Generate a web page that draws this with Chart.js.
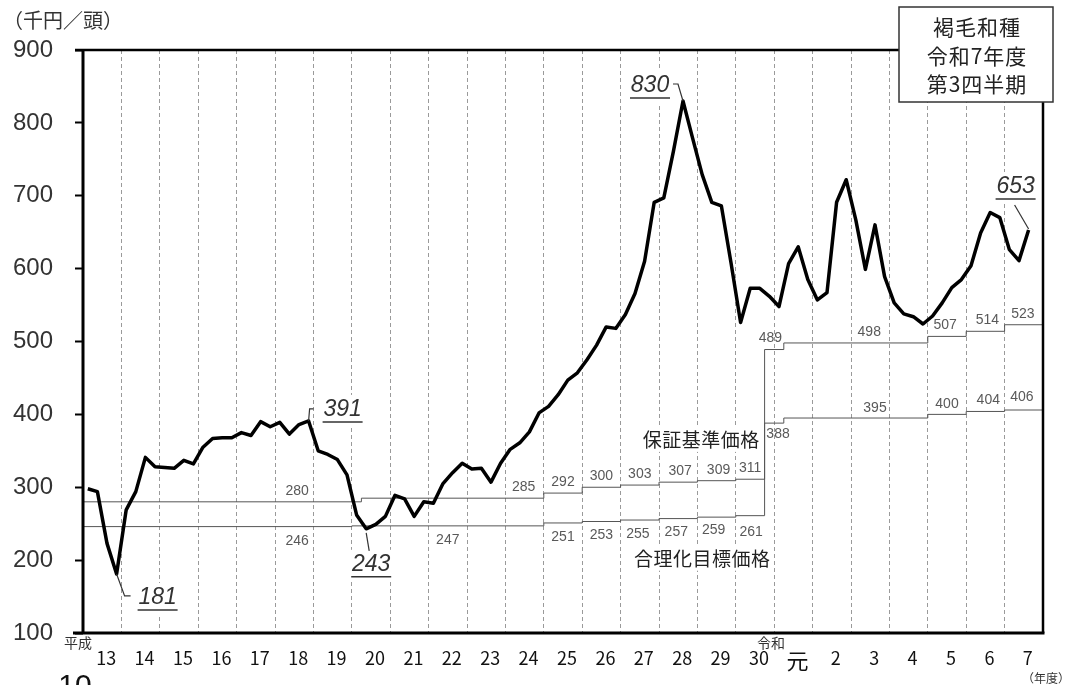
<!DOCTYPE html>
<html lang="ja">
<head>
<meta charset="utf-8">
<title>褐毛和種 子牛価格の推移</title>
<script src="https://cdn.jsdelivr.net/npm/chart.js@4.4.1/dist/chart.umd.min.js"></script>
<style>
  html, body { margin: 0; padding: 0; background: #fff; }
  #wrap { width: 1066px; height: 685px; overflow: hidden; }
  canvas { display: block; }
</style>
</head>
<body>
<div id="wrap"><canvas id="myChart" width="1066" height="685"></canvas></div>
<script>
// 年度ラベル（平成13年度〜令和7年度）
const yearLabels = ['13', '14', '15', '16', '17', '18', '19', '20', '21', '22', '23', '24',
  '25', '26', '27', '28', '29', '30', '元', '2', '3', '4', '5', '6', '7'];

// 四半期ごとの平均価格（千円／頭）H13第1四半期〜R7第3四半期
const prices = [
  298, 294, 223, 181, 269, 294, 341, 328, 327, 326,
  337, 332, 355, 367, 368, 368, 375, 371, 390, 383,
  389, 373, 386, 391, 350, 345, 338, 317, 262, 243,
  249, 260, 289, 284, 260, 280, 278, 305, 320, 333,
  325, 326, 307, 333, 352, 361, 376, 402, 411, 427,
  447, 457, 475, 495, 520, 518, 537, 566, 610, 691,
  697, 761, 830, 779, 729, 691, 686, 608, 526, 573,
  573, 562, 548, 607, 630, 585, 557, 567, 691, 722,
  667, 599, 660, 589, 553, 538, 534, 524, 535, 553,
  574, 585, 604, 649, 677, 670, 626, 611, 653
];

// 保証基準価格（開始四半期と価格）
const guaranteeStart = [0, 29, 48, 52, 56, 60, 64, 68, 71, 73, 88, 92, 96];
const guaranteePrice = [280, 285, 292, 300, 303, 307, 309, 311, 489, 498, 507, 514, 523];

// 合理化目標価格（開始四半期と価格）
const targetStart = [0, 28, 48, 52, 56, 60, 64, 68, 71, 73, 88, 92, 96];
const targetPrice = [246, 247, 251, 253, 255, 257, 259, 261, 388, 395, 400, 404, 406];

// 注記する価格の四半期
const markedQuarters = [3, 23, 29, 62, 98];

const yTicks = [100, 200, 300, 400, 500, 600, 700, 800, 900];
const quarterCount = 100;

const JP = '"Noto Sans CJK JP", sans-serif';
const NUM = '"Liberation Sans", Arial, sans-serif';

// ---- layout of the texts (not data) ----
const guaranteeLabelX = [22.3, 45.9, 50, 54, 58, 62.2, 66.2, 69.5, 71.6, 81.9, 89.8, 94.2, 97.9];
const targetLabelX = [22.3, 38, 50, 54, 57.8, 61.8, 65.7, 69.6, 72.4, 82.5, 90, 94.3, 97.8];
const targetLabelDy = [15, 14, 14, 14, 14, 14, 13, 16, 11, -10, -10, -11, -13];
const markLayout = [
  { dx: 41, dy: 24, leader: [[0, 0], [8, 22], [14, 22]] },
  { dx: 34, dy: -11, leader: [[0, 0], [1, -12], [5, -12]] },
  { dx: 5, dy: 36, leader: [[0, 4], [3, 22]] },
  { dx: -33, dy: -15, leader: [[0, 0], [-5, -17], [-10, -17]] },
  { dx: -13, dy: -43, leader: [[0, -1], [-14, -25]] }
];
const captions = [
  { text: '保証基準価格', x: 64.4, y: 365, w: 120 },
  { text: '合理化目標価格', x: 64.5, y: 202, w: 138 }
];

function stepPoints(starts, values) {
  const pts = starts.map((s, i) => ({ x: s, y: values[i] }));
  pts.push({ x: quarterCount, y: values[values.length - 1] });
  return pts;
}

function markPos(chart, k) {
  const i = markedQuarters[k];
  const x = chart.scales.x.getPixelForValue(i + 0.5);
  const y = chart.scales.y.getPixelForValue(prices[i]);
  return { x, y };
}

const decor = {
  id: 'decor',
  beforeDatasetsDraw(chart) {
    const ctx = chart.ctx;
    ctx.save();
    ctx.fillStyle = '#fff';
    markLayout.forEach((m, k) => {
      const p = markPos(chart, k);
      ctx.fillRect(p.x + m.dx - 23, p.y + m.dy - 15, 46, 32);
    });
    captions.forEach(c => {
      const x = chart.scales.x.getPixelForValue(c.x);
      const y = chart.scales.y.getPixelForValue(c.y);
      ctx.fillRect(x - c.w / 2, y - 12, c.w, 24);
    });
    ctx.restore();
  },
  afterDatasetsDraw(chart) {
    const ctx = chart.ctx;
    const xs = chart.scales.x, ys = chart.scales.y;
    const area = chart.chartArea;
    ctx.save();

    // 基準価格の数値
    ctx.font = '14px ' + NUM;
    ctx.fillStyle = '#595959';
    ctx.textAlign = 'center';
    ctx.textBaseline = 'middle';
    guaranteePrice.forEach((v, i) => {
      ctx.fillText(String(v), xs.getPixelForValue(guaranteeLabelX[i]), ys.getPixelForValue(v) - 11);
    });
    targetPrice.forEach((v, i) => {
      ctx.fillText(String(v), xs.getPixelForValue(targetLabelX[i]), ys.getPixelForValue(v) + targetLabelDy[i]);
    });

    // 見出し
    ctx.font = '19px ' + JP;
    ctx.fillStyle = '#222';
    ctx.letterSpacing = '0.5px';
    captions.forEach(c => {
      ctx.fillText(c.text, xs.getPixelForValue(c.x), ys.getPixelForValue(c.y));
    });
    ctx.letterSpacing = '0px';

    // 注記（最高・最低価格）
    markLayout.forEach((m, k) => {
      const p = markPos(chart, k);
      ctx.strokeStyle = '#333';
      ctx.lineWidth = 1.2;
      ctx.beginPath();
      m.leader.forEach((d, j) => {
        if (j === 0) ctx.moveTo(p.x + d[0], p.y + d[1]);
        else ctx.lineTo(p.x + d[0], p.y + d[1]);
      });
      ctx.stroke();
      const tx = p.x + m.dx, ty = p.y + m.dy;
      ctx.font = 'italic 23px ' + NUM;
      ctx.fillStyle = '#333';
      ctx.fillText(String(prices[markedQuarters[k]]), tx, ty);
      ctx.lineWidth = 1.5;
      ctx.beginPath();
      ctx.moveTo(tx - 20, ty + 12);
      ctx.lineTo(tx + 20, ty + 12);
      ctx.stroke();
    });

    // 枠線
    ctx.strokeStyle = '#000';
    ctx.lineWidth = 3;
    ctx.beginPath();
    ctx.moveTo(area.left, area.top - 1);
    ctx.lineTo(area.left, area.bottom + 1.5);
    ctx.moveTo(area.left - 10, area.bottom);
    ctx.lineTo(area.right + 1.5, area.bottom);
    ctx.stroke();
    ctx.lineWidth = 2.5;
    ctx.beginPath();
    ctx.moveTo(area.left - 8, area.top);
    ctx.lineTo(area.right, area.top);
    ctx.lineTo(area.right, area.bottom);
    ctx.stroke();
    ctx.restore();
  },
  afterDraw(chart) {
    const ctx = chart.ctx;
    ctx.save();
    // 凡例ボックス
    ctx.fillStyle = '#fff';
    ctx.fillRect(899, 7, 154, 95);
    ctx.strokeStyle = '#333';
    ctx.lineWidth = 1.5;
    ctx.strokeRect(899, 7, 154, 95);
    ctx.fillStyle = '#222';
    ctx.font = '21px ' + JP;
    ctx.letterSpacing = '1px';
    ctx.textAlign = 'center';
    ctx.textBaseline = 'middle';
    ctx.fillText('褐毛和種', 977, 27);
    ctx.fillText('令和7年度', 977, 56);
    ctx.fillText('第3四半期', 977, 84);
    ctx.letterSpacing = '0px';

    // 単位
    ctx.textAlign = 'left';
    ctx.font = '20px ' + JP;
    ctx.fillStyle = '#333';
    ctx.fillText('（千円／頭）', 3, 20);

    // 元号
    ctx.textAlign = 'center';
    ctx.font = '14px ' + JP;
    ctx.fillStyle = '#333';
    ctx.fillText('平成', 78, 643);
    ctx.fillText('令和', 771, 643);
    ctx.font = '12px ' + JP;
    ctx.textAlign = 'left';
    ctx.fillText('（年度）', 1022, 678);

    // ページ番号（下端で切れている）
    ctx.font = '30px ' + NUM;
    ctx.fillStyle = '#111';
    ctx.textAlign = 'center';
    ctx.textBaseline = 'alphabetic';
    ctx.fillText('10', 75, 695);
    ctx.restore();
  }
};

const ctx = document.getElementById('myChart');
new Chart(ctx, {
  type: 'line',
  data: {
    datasets: [
      {
        label: '子牛価格',
        data: prices.map((v, i) => ({ x: i + 0.5, y: v })),
        borderColor: '#000',
        borderWidth: 3.5,
        borderJoinStyle: 'round',
        pointRadius: 0,
        tension: 0,
        fill: false
      },
      {
        label: '保証基準価格',
        data: stepPoints(guaranteeStart, guaranteePrice),
        stepped: 'before',
        borderColor: '#555',
        borderWidth: 1,
        pointRadius: 0,
        fill: false
      },
      {
        label: '合理化目標価格',
        data: stepPoints(targetStart, targetPrice),
        stepped: 'before',
        borderColor: '#555',
        borderWidth: 1,
        pointRadius: 0,
        fill: false
      }
    ]
  },
  options: {
    responsive: false,
    devicePixelRatio: 1,
    animation: false,
    layout: { padding: { top: 50, right: 23, left: 0, bottom: 0 } },
    plugins: {
      legend: { display: false },
      tooltip: { enabled: false }
    },
    scales: {
      x: {
        type: 'linear',
        min: 0,
        max: quarterCount,
        afterBuildTicks: (scale) => {
          const t = [];
          for (let v = 0; v <= quarterCount; v += 2) t.push({ value: v });
          scale.ticks = t;
        },
        afterFit: (scale) => { scale.height = 52; },
        grid: {
          drawTicks: false,
          lineWidth: 1,
          color: (c) => {
            const v = c.tick ? c.tick.value : 0;
            return (v % 4 === 0 && v > 0 && v < quarterCount) ? '#9a9a9a' : 'rgba(0,0,0,0)';
          }
        },
        border: { display: false, dash: [4, 3] },
        ticks: {
          autoSkip: false,
          maxRotation: 0,
          padding: 14,
          labelOffset: 4,
          color: '#111',
          font: (c) => ({ family: JP, size: c.tick && c.tick.value === 74 ? 22 : 18 }),
          callback: (v) => (v % 4 === 2 ? yearLabels[(v - 2) / 4] : '')
        }
      },
      y: {
        min: 100,
        max: 900,
        afterBuildTicks: (scale) => {
          scale.ticks = yTicks.map(v => ({ value: v }));
        },
        afterFit: (scale) => { scale.width = 83; },
        grid: {
          drawOnChartArea: false,
          drawTicks: true,
          tickLength: 8,
          tickColor: '#000',
          tickWidth: 2
        },
        border: { display: false },
        ticks: {
          padding: 22,
          color: '#333',
          font: { family: NUM, size: 24 }
        }
      }
    }
  },
  plugins: [decor]
});
</script>
</body>
</html>
